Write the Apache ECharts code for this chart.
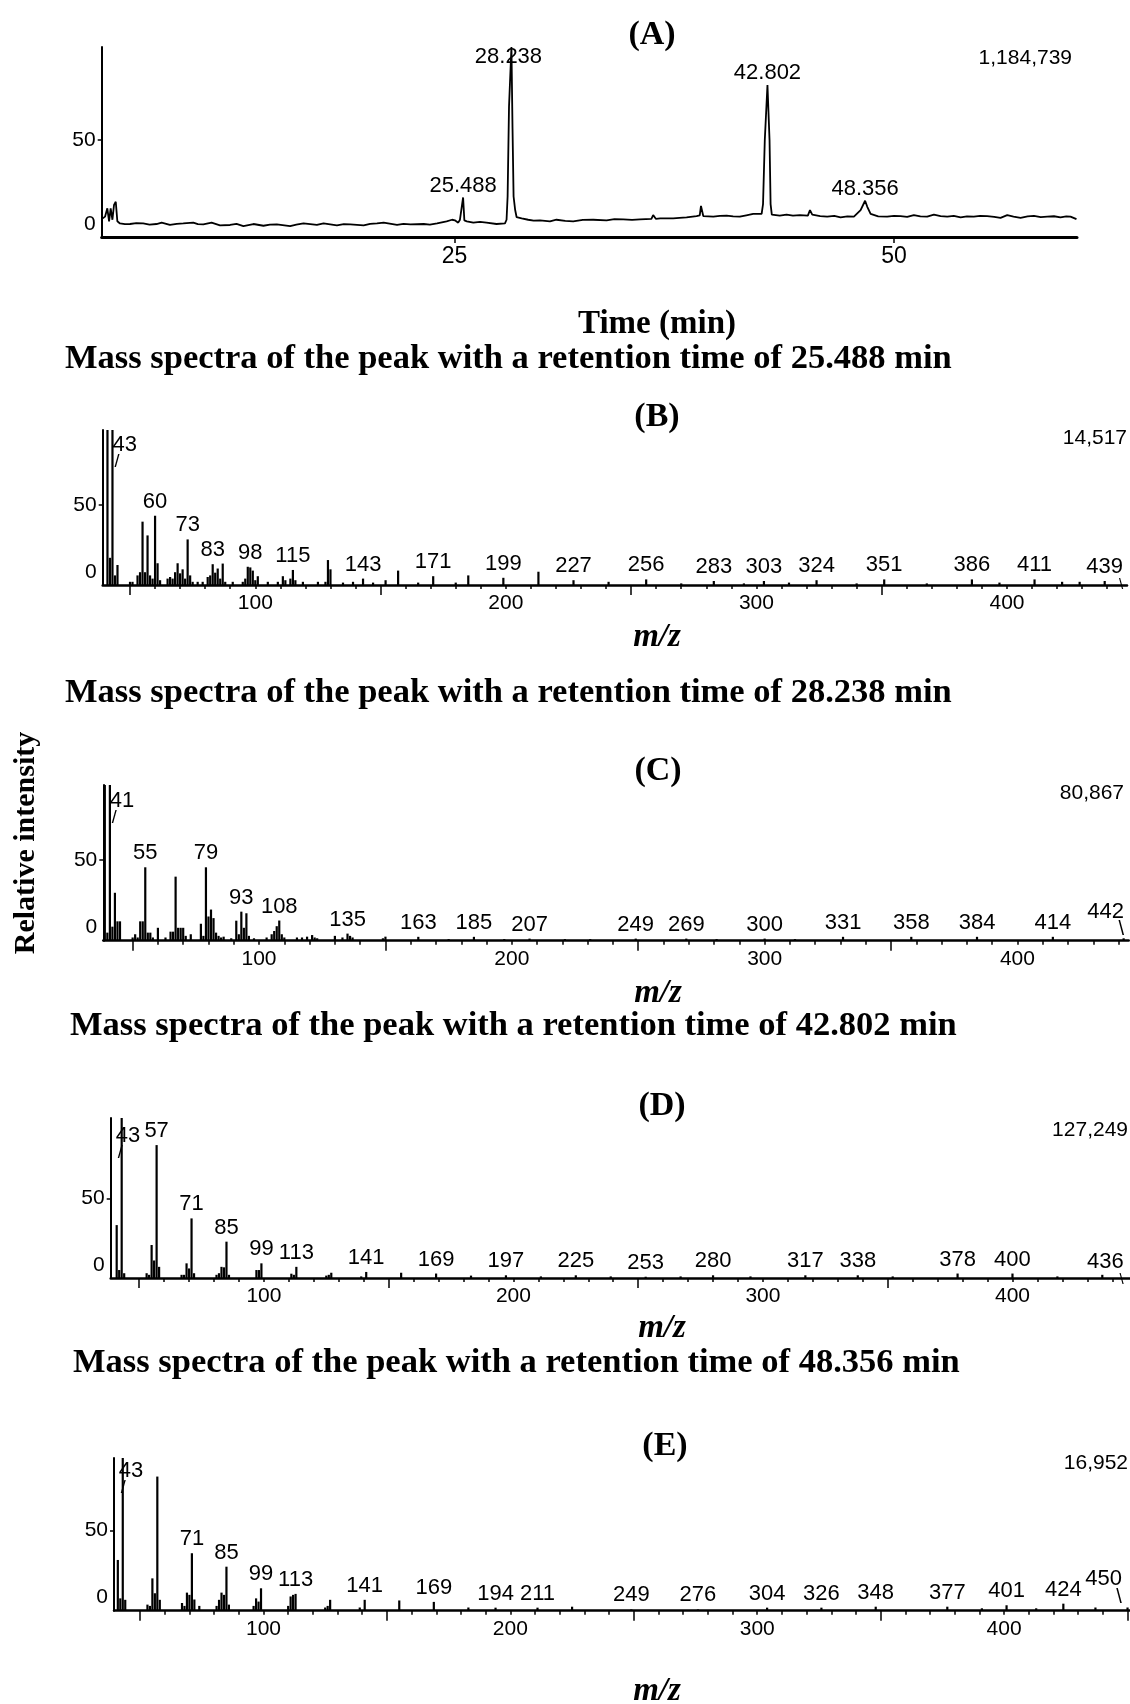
<!DOCTYPE html>
<html><head><meta charset="utf-8">
<script src="https://cdn.jsdelivr.net/npm/echarts@6/dist/echarts.min.js"></script>
<style>html,body{margin:0;padding:0;background:#fff}#c{width:1130px;height:1704px}</style>
</head><body><div id="c"></div>
<script>
// ================= DATA =================
// (A) total ion chromatogram: retention time (min) and relative signal (%)
const chromTime = [4.99,5.12,5.25,5.35,5.44,5.54,5.63,5.73,5.82,5.97,6.25,6.54,6.9,7.29,7.65,8.05,8.34,8.81,9.2,9.57,10.14,10.4,10.71,11.18,11.66,12.23,12.6,12.99,13.56,14.13,14.5,14.89,15.65,16.0,16.41,17.17,17.55,18.31,18.7,19.07,19.83,20.2,20.59,20.97,21.73,22.1,22.49,23.25,23.6,24.01,24.55,24.86,25.02,25.21,25.31,25.4,25.488,25.56,25.7,26.07,26.45,26.82,27.39,27.87,27.96,28.02,28.1,28.238,28.3,28.36,28.45,28.53,28.82,29.19,29.5,29.86,30.43,30.8,31.3,31.75,32.3,32.89,33.65,34.1,34.6,35.1,35.55,36.2,36.3,36.45,36.7,37.44,37.8,38.2,38.77,38.95,39.02,39.15,39.72,40.1,40.48,40.85,41.23,41.6,41.99,42.47,42.55,42.65,42.802,42.92,42.98,43.05,43.13,43.5,43.89,44.25,44.65,45.1,45.22,45.35,45.8,46.2,46.6,46.96,47.35,47.72,48.1,48.356,48.48,48.67,49.1,49.61,50.0,50.37,50.75,51.13,51.5,51.89,52.27,52.65,53.03,53.4,53.79,54.15,54.54,54.9,55.3,55.7,56.06,56.44,56.8,57.2,57.6,57.96,58.35,58.72,59.1,59.47,59.8,60.04,60.38];
const chromSignal = [9.6,10.5,14.8,8.1,14.8,8.9,16.5,18.2,8.1,7.0,6.6,6.7,7.2,7.0,6.4,6.7,7.4,6.2,6.8,7.0,7.4,6.6,6.5,7.4,6.0,6.2,6.8,5.6,6.7,5.8,6.4,6.5,5.6,6.4,7.0,6.2,7.0,6.0,6.6,6.5,6.0,6.8,7.0,7.4,6.2,6.8,6.5,6.7,6.4,7.0,8.1,8.9,8.6,7.4,8.9,8.5,20.4,8.6,8.1,7.4,7.8,7.4,6.7,7.0,8.9,20.9,67.2,98,56,20.9,13.9,10.3,9.6,8.9,8.4,8.6,8.1,8.9,8.3,8.1,8.8,8.9,8.6,9.2,9.1,8.8,9.1,9.3,11.3,9.4,9.6,9.6,9.9,10.1,10.8,11.2,16.0,10.8,10.5,10.9,11.0,10.6,10.5,11.2,11.9,11.9,17,50,78.4,50,17,11.5,11.3,11.0,11.5,11.0,11.3,11.0,13.9,11.5,10.8,10.5,10.9,10.1,10.6,10.5,13.9,18.7,15.6,11.9,10.6,10.5,10.9,10.8,10.4,11.3,10.6,10.5,11.5,10.8,10.5,10.9,10.1,10.6,10.5,10.9,10.8,10.4,9.9,11.3,10.5,9.9,10.6,10.9,10.3,10.5,10.7,10.1,10.6,10.5,9.2];
const chromPeakTimes = [25.488, 28.238, 42.802, 48.356];
const chromTickLabels = [25, 50];

// (B) mass spectrum at 25.488 min
const mzB = [41,42,43,44,45,50,51,53,54,55,56,57,58,59,60,61,62,65,66,67,68,69,70,71,72,73,74,75,77,79,81,82,83,84,85,86,87,88,91,95,96,97,98,99,100,101,105,109,111,112,114,115,116,119,125,128,129,130,135,139,143,147,152,157,165,171,180,185,199,213,227,241,256,270,283,295,303,313,324,340,351,368,386,397,411,422,429,439];
const intB = [96.9,17,96.9,6,12.5,2,2,6,8,39.6,8,31,6,4,43.3,13.6,3,4,5,4,8,13.6,7.3,9.8,4,28.5,6,2,2,2,5,6,13,7.7,10.3,4,13.4,2,2,2,4,11.4,11,9,3,5.5,2,2,5.5,3,4,9.4,3,2,2,2,15.6,9.8,1.5,2,4,1.5,3,9,1.5,5.5,1.5,6,4.5,8.3,3,2,3.5,1,2.5,1,2.5,1.5,3,1,3.5,1,3.5,1.5,3.5,2,2,2.5];
const labelsB = [43,60,73,83,98,115,143,171,199,227,256,283,303,324,351,386,411,439];

// (C) mass spectrum at 28.238 min
const mzC = [39,40,41,42,43,44,45,50,51,52,53,54,55,56,57,58,60,63,65,66,67,68,69,70,71,73,77,78,79,80,81,82,83,84,85,86,89,91,92,93,94,95,96,98,103,105,106,107,108,109,110,115,117,119,121,122,123,130,133,135,136,137,149,150,163,175,185,197,207,221,231,249,269,281,300,312,331,358,384,414,442];
const intC = [96.5,5,96.5,8.7,29.7,12,12,2,4,2,12,12,45.5,5,5,2,8,2,5.6,5.6,39.7,8,8,8,3,4,10.5,3,45.5,15,19.3,14,5,3,2,2.5,1.5,12.4,4,18,8,17,3,1.5,2,4,6,9,12.5,4,2,2,2,2.5,3.5,2,1.5,3,2,4.4,3,2,1.5,2.5,2.4,1,2.4,1,1.3,1,1,1.3,1.3,1,1.3,1,2.4,2.4,2.4,2.4,1.5];
const labelsC = [41,55,79,93,108,135,163,185,207,249,269,300,331,358,384,414,442];

// (D) mass spectrum at 42.802 min
const mzD = [41,42,43,44,53,54,55,56,57,58,67,68,69,70,71,72,81,82,83,84,85,86,97,98,99,111,112,113,125,126,127,139,141,155,169,183,197,211,225,239,253,267,280,295,317,338,352,378,400,418,436];
const intD = [33.2,5,100.4,3,3,2,20.7,11,83.4,7,2,2,9.2,6,37.4,3,2,3,7,6.7,22.8,2,5,5,9.2,2.7,2,7,1.5,2,3.3,1,3.8,3.3,2.8,1.5,1.7,1,1.7,1,0.8,1,1.7,1,1.7,1.7,1,2.8,2.8,1,2];
const labelsD = [43,57,71,85,99,113,141,169,197,225,253,280,317,338,378,400,436];

// (E) mass spectrum at 48.356 min
const mzE = [41,42,43,44,53,54,55,56,57,58,67,68,69,70,71,72,74,81,82,83,84,85,86,96,97,98,99,110,111,112,113,125,126,127,139,141,155,169,183,194,211,225,249,276,304,326,348,377,391,401,413,424,437,450];
const intE = [31.7,7.7,95.4,6.8,3.8,3,20.2,10.9,83.8,6.8,4.8,3,11.3,9.9,35.9,7,3,3,6.8,11.3,9.9,27.5,3.8,3,7.7,5.7,14,3,8.9,9.9,10.5,2,3,6.8,2,6.8,6.4,5.5,2,1.9,1.9,2.5,0.8,0.8,1.9,1.9,2.5,2.5,1.5,3.4,1.5,4.4,2,2];
const labelsE = [43,71,85,99,113,141,169,194,211,249,276,304,326,348,377,401,424,450];

const yTickLabels = [0, 50];
const yTicks = [50];
const mzTickLabels = [100, 200, 300, 400];
const mzMajorTicks = [50, 150, 250, 350, 450];
const mzMinorTicks = [60,70,80,90,100,110,120,130,140,160,170,180,190,200,210,220,230,240,260,270,280,290,300,310,320,330,340,360,370,380,390,400,410,420,430,440];
const panelLetters = ['(A)', '(B)', '(C)', '(D)', '(E)'];
const baseAbundance = ['1,184,739', '14,517', '80,867', '127,249', '16,952'];
const headings = [
  'Mass spectra of the peak with a retention time of 25.488 min',
  'Mass spectra of the peak with a retention time of 28.238 min',
  'Mass spectra of the peak with a retention time of 42.802 min',
  'Mass spectra of the peak with a retention time of 48.356 min'
];
const xTitleA = 'Time (min)';
const xTitleMS = 'm/z';
const yTitle = 'Relative intensity';

// ================= LAYOUT / STYLE =================
const SANS = "'Liberation Sans', Arial, sans-serif";
const SERIF = "'Liberation Serif', 'Times New Roman', serif";

const gridA = {left: 101.7, top: 47, width: 975.3, height: 190};
const rangeA = {xmin: 4.93, xmax: 60.41, ymax: 98};
const msPanels = [
  {mz: mzB, inten: intB, labels: labelsB, grid: {left: 102.7, top: 430, width: 1024.3, height: 155}, xmin: 39.1, xmax: 447.9, ymax: 96.9, first: [0, 4], last: [0, 14], lastSlash: 15},
  {mz: mzC, inten: intC, labels: labelsC, grid: {left: 103.3, top: 785, width: 1025.4, height: 155.7}, xmin: 38.4, xmax: 444, ymax: 96.5, first: [0, 5], last: [-18, 2], lastSlash: 20},
  {mz: mzD, inten: intD, labels: labelsD, grid: {left: 110.7, top: 1118, width: 1021.3, height: 160}, xmin: 38.6, xmax: 447.1, ymax: 100.4, first: [-6, 7], last: [3, 16], lastSlash: 15},
  {mz: mzE, inten: intE, labels: labelsE, grid: {left: 114, top: 1458, width: 1023.9, height: 152.7}, xmin: 39.45, xmax: 451, ymax: 95.4, first: [-4, 2], last: [-24, 0], lastSlash: 20}
];
const letterPos = [[652, 35], [657, 417], [658, 771], [662, 1106], [665, 1446]];
const basePos = [[1072, 58], [1127, 438], [1124, 793], [1128, 1130], [1128, 1463]];
const headingPos = [[65, 359], [65, 693], [70, 1026], [73, 1363]];
const mzTitlePos = [[657, 637], [658, 993], [662, 1328], [657, 1691]];

function yAxisFor(gridIndex, ymax) {
  return {
    type: 'value', gridIndex, min: 0, max: ymax,
    axisLine: {show: true, lineStyle: {color: '#000', width: 2}},
    axisTick: {show: true, length: 4, customValues: yTicks, lineStyle: {color: '#000', width: 1.5}},
    splitLine: {show: false},
    axisLabel: {
      show: true, customValues: yTickLabels, margin: 6, color: '#000',
      fontFamily: SANS, fontSize: 21,
      formatter: v => (v === 0 ? '{z|0}' : '{n|' + v + '}'),
      rich: {
        z: {fontFamily: SANS, fontSize: 21, color: '#000', padding: [0, 0, 26, 0]},
        n: {fontFamily: SANS, fontSize: 21, color: '#000'}
      }
    }
  };
}

const grids = [gridA].concat(msPanels.map(p => p.grid));
const xAxes = [];
const yAxes = [];
const series = [];

// ---- Panel A ----
xAxes.push({
  type: 'value', gridIndex: 0, min: rangeA.xmin, max: rangeA.xmax, position: 'bottom',
  axisLine: {show: true, onZero: false, lineStyle: {color: '#000', width: 3}},
  axisTick: {show: true, length: 6, customValues: chromTickLabels, lineStyle: {color: '#000', width: 1.5}},
  splitLine: {show: false},
  axisLabel: {show: true, customValues: chromTickLabels, margin: 8, color: '#000', fontFamily: SANS, fontSize: 23}
});
yAxes.push(yAxisFor(0, rangeA.ymax));
series.push({
  type: 'line', xAxisIndex: 0, yAxisIndex: 0, clip: false,
  showSymbol: true, symbol: 'circle', symbolSize: 0,
  lineStyle: {color: '#000', width: 1.8}, itemStyle: {color: '#000'},
  label: {show: false, position: 'top', distance: 1, color: '#000', fontFamily: SANS, fontSize: 22},
  data: chromTime.map((t, i) => {
    const item = {value: [t, chromSignal[i]]};
    if (chromPeakTimes.includes(t)) {
      item.label = {show: true, formatter: t.toFixed(3)};
      if (chromSignal[i] >= rangeA.ymax) item.label.offset = [-3, 22];
    }
    return item;
  })
});

// ---- Panels B-E ----
msPanels.forEach((p, k) => {
  const gi = k + 1;
  const xiMain = xAxes.length;
  xAxes.push({
    type: 'value', gridIndex: gi, min: p.xmin, max: p.xmax, position: 'bottom', offset: 0,
    axisLine: {show: true, onZero: false, lineStyle: {color: '#000', width: 2.5}},
    axisTick: {show: true, length: 10, customValues: mzMajorTicks, lineStyle: {color: '#000', width: 1.5}},
    splitLine: {show: false},
    axisLabel: {show: true, customValues: mzTickLabels, margin: 8, color: '#000', fontFamily: SANS, fontSize: 21}
  });
  xAxes.push({
    type: 'value', gridIndex: gi, min: p.xmin, max: p.xmax, position: 'bottom', offset: 0,
    axisLine: {show: false, onZero: false},
    axisTick: {show: true, length: 4, customValues: mzMinorTicks, lineStyle: {color: '#000', width: 1.5}},
    splitLine: {show: false},
    axisLabel: {show: false}
  });
  const yi = yAxes.length;
  yAxes.push(yAxisFor(gi, p.ymax));
  const firstLab = p.labels[0];
  const lastLab = p.labels[p.labels.length - 1];
  series.push({
    type: 'bar', xAxisIndex: xiMain, yAxisIndex: yi, barWidth: 2.2, clip: true,
    itemStyle: {color: '#000'},
    label: {
      show: false, position: 'top', distance: 3, color: '#000', fontFamily: SANS, fontSize: 22,
      formatter: q => String(q.value[0]),
      rich: {
        t: {fontFamily: SANS, fontSize: 22, lineHeight: 21, color: '#000'},
        s: {fontFamily: SANS, fontSize: 18, lineHeight: 15, color: '#000', padding: [0, 0, 0, 2]},
        e: {fontFamily: SANS, fontSize: p.lastSlash, lineHeight: 15, color: '#000', align: 'right'}
      }
    },
    data: p.mz.map((m, i) => {
      const item = {value: [m, p.inten[i]]};
      if (m === firstLab) {
        item.label = {show: true, position: 'insideTop', distance: 0, align: 'left', verticalAlign: 'top',
          offset: p.first, formatter: '{t|' + m + '}\n{s|/}'};
      } else if (m === lastLab) {
        item.label = {show: true, position: 'top', distance: 3, offset: p.last,
          formatter: '{t|' + m + '}\n{e|\\}'};
      } else if (p.labels.includes(m)) {
        item.label = {show: true};
      }
      return item;
    })
  });
});

// ---- texts ----
const graphics = [];
function txt(x, y, text, font, align, extra) {
  graphics.push(Object.assign({
    type: 'text', x, y, silent: true,
    style: Object.assign({text, fill: '#000', align: align, textAlign: align, verticalAlign: 'middle', textVerticalAlign: 'middle'}, font)
  }, extra || {}));
}
panelLetters.forEach((t, i) => txt(letterPos[i][0], letterPos[i][1], t, {fontFamily: SERIF, fontSize: 34, fontWeight: 'bold'}, 'center'));
baseAbundance.forEach((t, i) => txt(basePos[i][0], basePos[i][1], t, {fontFamily: SANS, fontSize: 21}, 'right'));
headings.forEach((t, i) => txt(headingPos[i][0], headingPos[i][1], t, {fontFamily: SERIF, fontSize: 34.5, fontWeight: 'bold'}, 'left'));
mzTitlePos.forEach(pos => txt(pos[0], pos[1], xTitleMS, {fontFamily: SERIF, fontSize: 33, fontStyle: 'italic', fontWeight: 'bold'}, 'center'));
txt(657, 324, xTitleA, {fontFamily: SERIF, fontSize: 33, fontWeight: 'bold'}, 'center');
txt(26, 843, yTitle, {fontFamily: SERIF, fontSize: 30, fontWeight: 'bold'}, 'center', {rotation: Math.PI / 2});

const chart = echarts.init(document.getElementById('c'), null, {renderer: 'canvas', width: 1130, height: 1704});
chart.setOption({
  backgroundColor: '#fff',
  animation: false,
  grid: grids,
  xAxis: xAxes,
  yAxis: yAxes,
  series: series,
  graphic: graphics
});
</script>
</body></html>
